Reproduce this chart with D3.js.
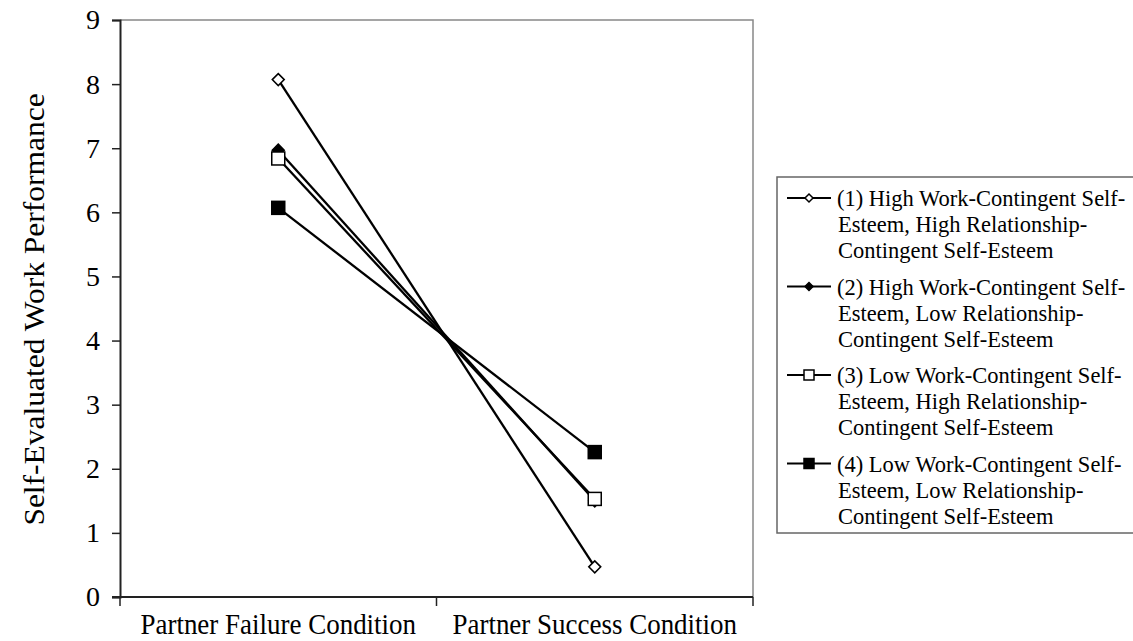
<!DOCTYPE html>
<html>
<head>
<meta charset="utf-8">
<script src="https://cdn.jsdelivr.net/npm/d3@7"></script>
<style>
  body { margin: 0; background: #fff; }
  text { font-family: "Liberation Serif", "Times New Roman", serif; fill: #000; }
</style>
</head>
<body>
<svg id="chart" width="1133" height="641"></svg>
<script>
// chart data
const conditions = ['Partner Failure Condition', 'Partner Success Condition'];
const yTicks = [0, 1, 2, 3, 4, 5, 6, 7, 8, 9];

const s1 = [8.07, 0.47];
const s2 = [6.97, 1.50];
const s3 = [6.84, 1.53];
const s4 = [6.07, 2.26];

const seriesNames = [
	['(1) High Work-Contingent Self-', 'Esteem, High Relationship-', 'Contingent Self-Esteem'],
	['(2) High Work-Contingent Self-', 'Esteem, Low Relationship-', 'Contingent Self-Esteem'],
	['(3) Low Work-Contingent Self-', 'Esteem, High Relationship-', 'Contingent Self-Esteem'],
	['(4) Low Work-Contingent Self-', 'Esteem, Low Relationship-', 'Contingent Self-Esteem']
];
const markers = ['diamondOpen', 'diamondFilled', 'squareOpen', 'squareFilled'];

const series = [s1, s2, s3, s4].map((values, i) => ({
	values,
	name: seriesNames[i],
	marker: markers[i]
}));

const svg = d3.select('#chart');
const plotL = 120, plotR = 753, plotT = 20, plotB = 597;

const x = d3.scaleBand().domain(conditions).range([plotL, plotR]);
const y = d3.scaleLinear().domain([0, 9]).range([plotB, plotT]);

// plot frame (top/right in grey)
svg.append('path')
	.attr('d', `M${plotL},${plotT}H${plotR}V${plotB}`)
	.attr('fill', 'none')
	.attr('stroke', '#888')
	.attr('stroke-width', 1.5);

// y axis
const yAxis = svg.append('g')
	.attr('transform', `translate(${plotL},0)`)
	.call(d3.axisLeft(y).tickValues(yTicks).tickSize(8).tickPadding(12));
yAxis.select('.domain').attr('stroke', '#222').attr('stroke-width', 2);
yAxis.selectAll('.tick line').attr('stroke', '#222').attr('stroke-width', 1.5);
yAxis.selectAll('.tick text')
	.style('font-family', '"Liberation Serif", serif')
	.style('font-size', '28px');

// x axis: ticks at category boundaries
const xAxis = svg.append('g')
	.attr('transform', `translate(0,${plotB})`)
	.call(d3.axisBottom(x).tickSize(0));
xAxis.select('.domain').attr('stroke', '#222').attr('stroke-width', 2)
	.attr('d', `M${plotL - 8},0H${plotR}`);
// labels look a bit condensed in the original, so squeeze them horizontally
xAxis.selectAll('.tick text')
	.attr('y', 0).attr('dy', null)
	.attr('transform', 'translate(0,37) scale(0.93,1)')
	.style('font-family', '"Liberation Serif", serif')
	.style('font-size', '29px');
const bounds = [plotL, x(conditions[1]), plotR];
xAxis.selectAll('line.bound')
	.data(bounds)
	.enter()
	.append('line')
	.classed('bound', true)
	.attr('x1', d => d).attr('x2', d => d)
	.attr('y1', 0).attr('y2', 9)
	.attr('stroke', '#222')
	.attr('stroke-width', 1.5);

// y axis label
svg.append('text')
	.attr('transform', `translate(44,${(plotT + plotB) / 2 + 1}) rotate(-90) scale(1,0.92)`)
	.attr('text-anchor', 'middle')
	.style('font-size', '31.5px')
	.text('Self-Evaluated Work Performance');

const cx = i => x(conditions[i]) + x.bandwidth() / 2;

function drawMarker(g, type, px, py, size) {
	const open = type.endsWith('Open');
	if (type.startsWith('diamond')) {
		const r = size;
		g.append('path')
			.attr('d', `M${px},${py - r}L${px + r},${py}L${px},${py + r}L${px - r},${py}Z`)
			.attr('fill', open ? '#fff' : '#000')
			.attr('stroke', '#000')
			.attr('stroke-width', 1.5);
	} else {
		const h = size;
		g.append('rect')
			.attr('x', px - h).attr('y', py - h)
			.attr('width', 2 * h).attr('height', 2 * h)
			.attr('fill', open ? '#fff' : '#000')
			.attr('stroke', '#000')
			.attr('stroke-width', 1.5);
	}
}

// lines
const line = d3.line().x((d, i) => cx(i)).y(d => y(d));
svg.append('g')
	.selectAll('path')
	.data(series)
	.enter()
	.append('path')
	.attr('d', d => line(d.values))
	.attr('fill', 'none')
	.attr('stroke', '#000')
	.attr('stroke-width', 2.3);

// markers, drawn in series order so the later ones sit on top
const markG = svg.append('g');
series.forEach(s => {
	const sz = s.marker.startsWith('diamond') ? 6 : 6.5;
	s.values.forEach((v, i) => drawMarker(markG, s.marker, cx(i), y(v), sz));
});

// legend
const legend = svg.append('g');
legend.append('rect')
	.attr('x', 777).attr('y', 177)
	.attr('width', 380).attr('height', 356)
	.attr('fill', '#fff')
	.attr('stroke', '#666')
	.attr('stroke-width', 1.5);

series.forEach((s, i) => {
	const gy = 199 + i * 88.5;
	legend.append('line')
		.attr('x1', 787).attr('x2', 831)
		.attr('y1', gy - 1).attr('y2', gy - 1)
		.attr('stroke', '#000')
		.attr('stroke-width', 2);
	const sz = s.marker.startsWith('diamond') ? 4 : 5;
	drawMarker(legend, s.marker, 809, gy - 1, sz);
	s.name.forEach((t, j) => {
		legend.append('text')
			.attr('x', j === 0 ? 837 : 838)
			.attr('y', gy + j * 26 + 7)
			.style('font-size', '22.5px')
			.text(t);
	});
});
</script>
</body>
</html>
